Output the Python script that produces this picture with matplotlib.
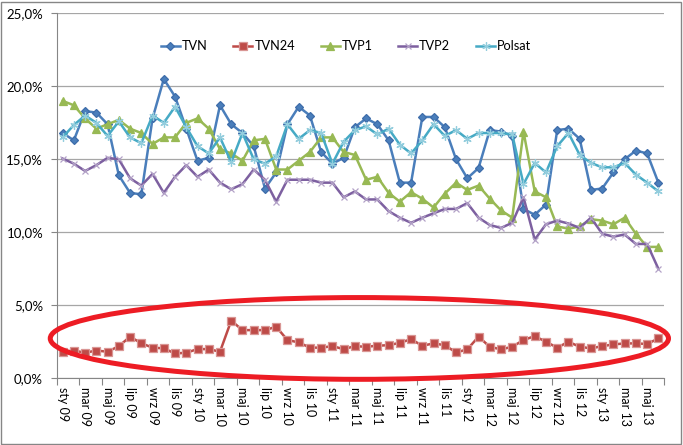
import numpy as np
import matplotlib
matplotlib.use('Agg')
import matplotlib.pyplot as plt
from matplotlib.patches import Ellipse, Rectangle
from matplotlib.ticker import FuncFormatter

plt.rcParams['font.family'] = ['Lato', 'DejaVu Sans']

# monthly shares, sty 09 .. cze 13
month_names = ['sty', 'lut', 'mar', 'kwi', 'maj', 'cze', 'lip', 'sie', 'wrz', 'paź', 'lis', 'gru']
years = ['09', '10', '11', '12', '13']
months = [f'{m} {y}' for y in years for m in month_names][:54]

tvn = [16.8, 16.3, 18.3, 18.2, 17.4, 13.9, 12.7, 12.6, 17.8, 20.5,
       19.3, 17.1, 14.9, 15.1, 18.7, 17.4, 16.8, 15.9, 13.0, 14.1,
       17.4, 18.6, 18.0, 15.5, 14.7, 15.1, 17.2, 17.8, 17.4, 16.3,
       13.4, 13.4, 17.9, 17.9, 17.2, 15.0, 13.7, 14.4, 17.0, 16.9,
       16.6, 11.6, 11.2, 11.9, 17.0, 17.1, 16.4, 12.9, 13.0, 14.1,
       15.0, 15.6, 15.4, 13.4]
tvn24 = [1.82, 1.9, 1.75, 1.9, 1.82, 2.2, 2.85, 2.4, 2.1, 2.05,
         1.7, 1.75, 2.0, 2.0, 1.82, 3.95, 3.3, 3.3, 3.3, 3.53,
         2.62, 2.46, 2.1, 2.1, 2.2, 2.0, 2.2, 2.16, 2.23, 2.27,
         2.43, 2.68, 2.23, 2.39, 2.27, 1.77, 1.98, 2.85, 2.16, 1.98,
         2.16, 2.62, 2.89, 2.5, 2.1, 2.5, 2.16, 2.05, 2.2, 2.32,
         2.39, 2.39, 2.35, 2.73]
tvp1 = [19.0, 18.7, 17.8, 17.1, 17.4, 17.7, 17.1, 16.8, 16.05, 16.5,
        16.5, 17.5, 17.8, 17.1, 15.7, 15.4, 14.9, 16.3, 16.4, 14.3,
        14.3, 14.9, 15.5, 16.5, 16.5, 15.5, 15.3, 13.6, 13.8, 12.7,
        12.1, 12.75, 12.3, 11.7, 12.65, 13.4, 12.9, 13.2, 12.3, 11.5,
        11.0, 16.9, 12.8, 12.4, 10.4, 10.25, 10.4, 10.9, 10.8, 10.55,
        11.0, 9.9, 9.0, 9.0]
tvp2 = [15.05, 14.7, 14.2, 14.6, 15.1, 15.0, 13.7, 13.2, 14.0, 12.7,
        13.8, 14.6, 13.8, 14.3, 13.4, 12.95, 13.3, 14.3, 13.6, 12.1,
        13.6, 13.6, 13.6, 13.4, 13.4, 12.4, 12.8, 12.25, 12.25, 11.45,
        11.0, 10.65, 11.0, 11.3, 11.6, 11.6, 12.0, 11.0, 10.5, 10.3,
        10.65, 12.4, 9.5, 10.55, 10.8, 10.6, 10.3, 11.0, 9.9, 9.7,
        9.85, 9.2, 9.2, 7.5]
polsat = [16.5, 17.35, 18.0, 17.5, 16.6, 17.6, 16.5, 16.1, 18.0, 17.5,
          18.6, 17.2, 15.9, 15.4, 16.5, 14.8, 16.8, 15.0, 14.7, 15.2,
          17.4, 16.4, 17.0, 16.8, 14.7, 16.2, 17.0, 17.25, 16.7, 17.1,
          16.0, 15.4, 16.3, 17.4, 16.6, 17.0, 16.4, 16.8, 16.8, 16.8,
          16.7, 13.3, 14.75, 14.1, 15.9, 16.8, 15.3, 14.75, 14.45, 14.45,
          14.75, 13.95, 13.4, 12.8]

# (name, values, line colour, marker, marker face, marker edge, size)
series = [
    ('TVN', tvn, '#4A7EBB', 'D', '#4A7EBB', '#3E6DAA', 4.5),
    ('TVN24', tvn24, '#BE4B48', 's', '#BE4B48', '#D99694', 5.3),
    ('TVP1', tvp1, '#98B954', '^', '#98B954', '#98B954', 5.5),
    ('TVP2', tvp2, '#7D60A0', 'x', '#B3A2C7', '#B3A2C7', 5.0),
    ('Polsat', polsat, '#46AAC5', (6, 2, 0), '#93CDDD', '#93CDDD', 6.0),
]

fig = plt.figure(figsize=(6.83, 4.45), dpi=100)
ax = fig.add_axes([57/683, 1-378.3/445, (664-57)/683, (378.3-13.3)/445])

x = np.arange(len(months))
for name, vals, col, mk, mfc, mec, ms in series:
    ax.plot(x, vals, color=col, lw=1.8, marker=mk, ms=ms, mfc=mfc, mec=mec,
            mew=0.9, label=name, zorder=3)

ax.set_xlim(-0.5, len(months)-0.5)
ax.set_ylim(0, 25)
ax.set_yticks(np.arange(0, 26, 5))
ax.yaxis.set_major_formatter(FuncFormatter(lambda v, p: f'{v:.1f}%'.replace('.', ',')))
ax.grid(axis='y', color='#a6a6a6', lw=0.9, zorder=0)
ax.set_axisbelow(True)

# ticks between category pairs, labels on every 2nd month
ax.set_xticks(np.arange(-0.5, len(months), 2))
ax.set_xticklabels([])
ax.set_xticks(x[::2], minor=True)
ax.set_xticklabels(months[::2], minor=True, rotation=-90, fontsize=9)
ax.tick_params(axis='x', which='major', length=5, color='#868686')
ax.tick_params(axis='x', which='minor', length=0, pad=6)
ax.tick_params(axis='y', length=4, color='#868686', labelsize=9.5, pad=6)

for s in ['top', 'right']:
    ax.spines[s].set_visible(False)
for s in ['left', 'bottom']:
    ax.spines[s].set_color('#868686')

fig.legend(loc='center', bbox_to_anchor=(346/683, 1-46.5/445), ncol=5, frameon=False,
           fontsize=9.2, handlelength=1.5, handletextpad=0.15, columnspacing=2.0)

# red ellipse highlighting TVN24
ell = Ellipse((26.4, 2.73), width=55.0, height=5.6, fill=False, edgecolor='#ED1C24',
              lw=3.6, clip_on=False, zorder=5)
ax.add_patch(ell)

# chart border
fig.patches.append(Rectangle((1/683, 1/445), 680/683, 442/445, transform=fig.transFigure,
                             fill=False, edgecolor='#868686', lw=1))

fig.savefig('out.png', dpi=100)
